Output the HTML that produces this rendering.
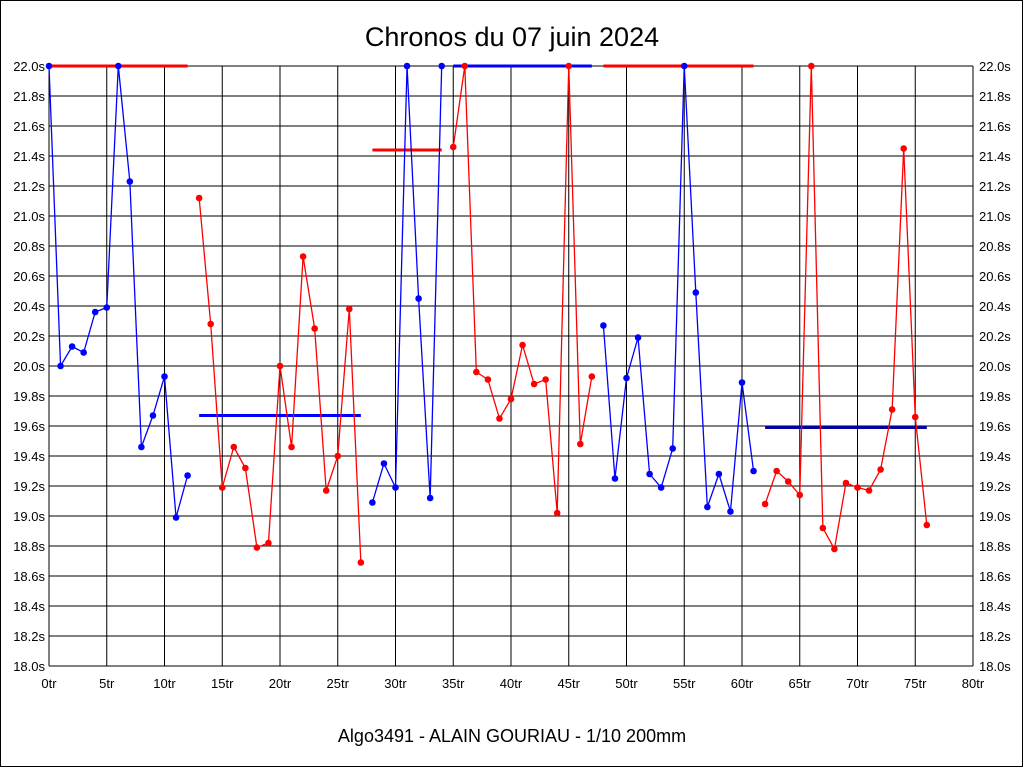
<!DOCTYPE html>
<html><head><meta charset="utf-8"><style>
html,body{margin:0;padding:0;background:#fff;}
svg{display:block;font-family:"Liberation Sans",sans-serif;}
</style></head><body>
<svg id="chart" width="1024" height="768" xmlns="http://www.w3.org/2000/svg">
<rect x="0.5" y="0.5" width="1022" height="766" fill="#fff" stroke="#000"/>
<text x="512" y="46" font-size="27" text-anchor="middle">Chronos du 07 juin 2024</text>
<text x="512" y="742" font-size="18" text-anchor="middle">Algo3491 - ALAIN GOURIAU - 1/10 200mm</text>
<g id="grid"></g><g id="marks"></g>
</svg>
<script>
const segStarts = [0, 13, 28, 35, 48, 62];
const segColors = ['#0000ff','#ff0000','#0000ff','#ff0000','#0000ff','#ff0000'];
const lapTimes = [22.0,20.00,20.13,20.09,20.36,20.39,22.0,21.23,19.46,19.67,19.93,18.99,19.27,
 21.12,20.28,19.19,19.46,19.32,18.79,18.82,20.00,19.46,20.73,20.25,19.17,19.40,20.38,18.69,
 19.09,19.35,19.19,22.0,20.45,19.12,22.0,
 21.46,22.0,19.96,19.91,19.65,19.78,20.14,19.88,19.91,19.02,22.0,19.48,19.93,
 20.27,19.25,19.92,20.19,19.28,19.19,19.45,22.0,20.49,19.06,19.28,19.03,19.89,19.30,
 19.08,19.30,19.23,19.14,22.0,18.92,18.78,19.22,19.19,19.17,19.31,19.71,21.45,19.66,18.94];
const avgStart = [0, 13, 28, 35, 48, 62];
const avgEnd = [12, 27, 34, 47, 61, 76];
const avgValue = [22.0, 19.67, 21.44, 22.0, 22.0, 19.59];
const avgColors = ['#ff0000','#0000ff','#ff0000','#0000ff','#ff0000','#0000a0'];
const yTicks = [18.0,18.2,18.4,18.6,18.8,19.0,19.2,19.4,19.6,19.8,20.0,20.2,20.4,20.6,20.8,21.0,21.2,21.4,21.6,21.8,22.0];
const xTicks = [0,5,10,15,20,25,30,35,40,45,50,55,60,65,70,75,80];

const X0=49,X1=973,Y0=666,Y1=66;
const xs=v=>X0+(v-0)/80*(X1-X0);
const ys=v=>Y0-(v-18)/4*(Y0-Y1);
const NS='http://www.w3.org/2000/svg';
const grid=document.getElementById('grid'), marks=document.getElementById('marks');
function mk(tag,attrs,parent){const e=document.createElementNS(NS,tag);for(const k in attrs)e.setAttribute(k,attrs[k]);parent.appendChild(e);return e;}

yTicks.forEach(t=>{
  const l=mk('line',{x1:X0,x2:X1,y1:ys(t),y2:ys(t),stroke:'#000','stroke-width':1},grid);
  
  
  const a=mk('text',{x:X0-4,y:ys(t)+5,'font-size':13,'text-anchor':'end'},grid);a.textContent=t.toFixed(1)+'s';
  
  
  const b=mk('text',{x:X1+6,y:ys(t)+5,'font-size':13},grid);b.textContent=t.toFixed(1)+'s';
  
  
});
xTicks.forEach(t=>{
  const l=mk('line',{x1:xs(t),x2:xs(t),y1:Y1,y2:Y0,stroke:'#000','stroke-width':1},grid);
  
  
  const a=mk('text',{x:xs(t),y:Y0+22,'font-size':13,'text-anchor':'middle'},grid);a.textContent=t+'tr';
  
  
});

avgValue.forEach((v,i)=>{
  const l=mk('line',{x1:xs(avgStart[i]),x2:xs(avgEnd[i]),y1:ys(v),y2:ys(v),stroke:avgColors[i],'stroke-width':3},marks);
  
  
});

segStarts.forEach((s,i)=>{
  const e=i+1<segStarts.length?segStarts[i+1]:lapTimes.length;
  const pts=[];
  for(let k=s;k<e;k++)pts.push(xs(k)+','+ys(lapTimes[k]));
  const p=mk('polyline',{points:pts.join(' '),fill:'none',stroke:segColors[i],'stroke-width':1.3},marks);
  
  
  for(let k=s;k<e;k++){
    const c=mk('circle',{cx:xs(k),cy:ys(lapTimes[k]),r:3.3,fill:segColors[i]},marks);
    
    
  }
});
</script>
</body></html>
